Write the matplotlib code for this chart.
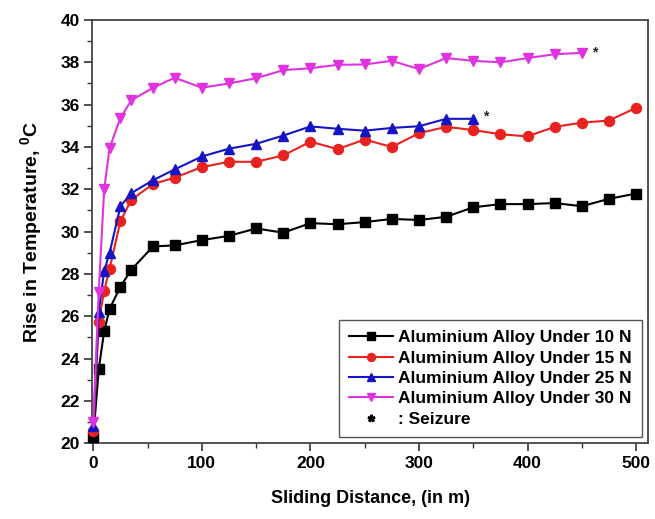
import matplotlib
matplotlib.use("Agg")
import matplotlib.pyplot as plt
from matplotlib.lines import Line2D
from matplotlib.ticker import MultipleLocator

plt.rcParams["font.family"] = ["Liberation Sans", "DejaVu Sans"]
plt.rcParams["font.weight"] = "bold"
plt.rcParams["mathtext.fontset"] = "custom"
plt.rcParams["mathtext.bf"] = "Liberation Sans:bold"
plt.rcParams["mathtext.rm"] = "Liberation Sans:bold"

# ── Data: sliding distance (m) vs temperature rise (°C) ─────
distance = [0, 5, 10, 15, 25, 35, 55, 75, 100, 125, 150, 175, 200,
            225, 250, 275, 300, 325, 350, 375, 400, 425, 450, 475, 500]

temp_10n = [20.3, 23.5, 25.3, 26.35, 27.4, 28.2, 29.3, 29.35, 29.6, 29.8,
            30.15, 29.95, 30.4, 30.35, 30.45, 30.6, 30.55, 30.7, 31.15,
            31.3, 31.3, 31.35, 31.2, 31.55, 31.8]
temp_15n = [20.6, 25.75, 27.2, 28.25, 30.5, 31.5, 32.25, 32.55, 33.05, 33.3,
            33.3, 33.6, 34.25, 33.9, 34.35, 34.0, 34.65, 34.95, 34.8,
            34.6, 34.5, 34.95, 35.15, 35.25, 35.85]
temp_25n = [20.8, 26.2, 28.15, 29.0, 31.2, 31.82, 32.43, 32.94, 33.55, 33.92,
            34.15, 34.54, 34.97, 34.86, 34.77, 34.9, 34.98, 35.33, 35.33]
temp_30n = [21.0, 27.15, 32.0, 33.95, 35.38, 36.2, 36.8, 37.27, 36.8, 37.0,
            37.25, 37.63, 37.72, 37.88, 37.9, 38.07, 37.68, 38.2, 38.07,
            38.0, 38.2, 38.38, 38.45]

# seizure marks just past the last reading of 25 N and 30 N
seizure_25n = (361, 35.45)
seizure_30n = (462, 38.47)

fig = plt.figure(figsize=(6.55, 5.19), dpi=100)
ax = fig.add_axes([0.1408, 0.1459, 0.8486, 0.8156])

style = dict(linewidth=1.5, markersize=7.2, clip_on=False, zorder=3)
ax.plot(distance, temp_10n, color="black", marker="s",
        label="Aluminium Alloy Under 10 N", **style)
ax.plot(distance, temp_15n, color="#e8221e", marker="o",
        label="Aluminium Alloy Under 15 N", **style)
ax.plot(distance[:len(temp_25n)], temp_25n, color="#1414c4", marker="^",
        label="Aluminium Alloy Under 25 N", **style)
ax.plot(distance[:len(temp_30n)], temp_30n, color="#e033e0", marker="v",
        label="Aluminium Alloy Under 30 N", **style)

for sx, sy in (seizure_25n, seizure_30n):
    ax.text(sx, sy, "*", fontsize=10, fontweight="bold", color="#222222",
            ha="center", va="center")

ax.set_xlim(-1, 511)
ax.set_ylim(20, 40)
ax.xaxis.set_major_locator(MultipleLocator(100))
ax.xaxis.set_minor_locator(MultipleLocator(50))
ax.yaxis.set_major_locator(MultipleLocator(2))
ax.yaxis.set_minor_locator(MultipleLocator(1))
ax.tick_params(which="major", direction="out", length=6, width=1.2,
               labelsize=12.5, pad=3, color="#333333")
ax.tick_params(which="minor", direction="out", length=3.5, width=1.0,
               color="#333333")
for lab in ax.get_xticklabels() + ax.get_yticklabels():
    lab.set_fontweight("bold")
for sp in ax.spines.values():
    sp.set_linewidth(1.3)
    sp.set_color("#444444")

ax.set_xlabel("Sliding Distance, (in m)", fontsize=13, fontweight="bold",
              labelpad=14)
ax.set_ylabel(r"Rise in Temperature, $^{\mathbf{0}}$C", fontsize=14,
              fontweight="bold", labelpad=11)

handles, labels = ax.get_legend_handles_labels()
handles.append(Line2D([], [], linestyle="none", marker="$*$", color="black",
                      markersize=6))
labels.append(": Seizure")
leg = ax.legend(handles, labels, loc="lower right",
                prop={"weight": "bold", "size": 12.5}, frameon=True,
                fancybox=False, edgecolor="#555555", framealpha=1,
                borderaxespad=0.35, labelspacing=0.3, handlelength=2.5,
                handletextpad=0.3, borderpad=0.6, markerscale=0.8)
leg.get_frame().set_linewidth(1.0)

fig.savefig("out.png", dpi=100)
